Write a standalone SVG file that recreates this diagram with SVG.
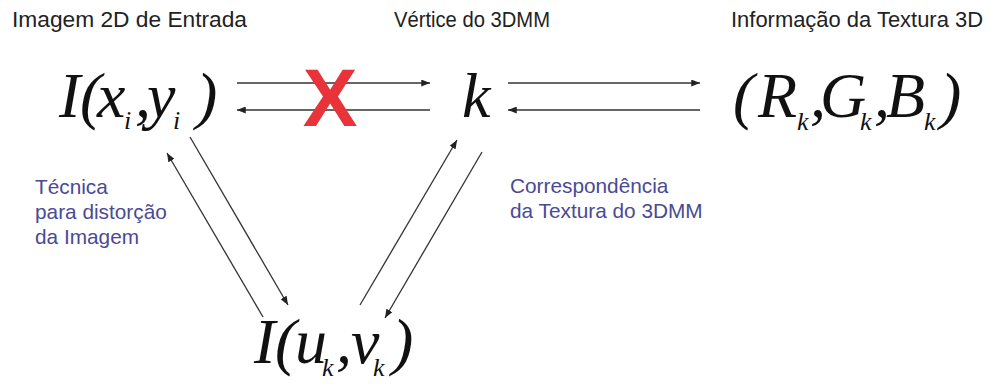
<svg xmlns="http://www.w3.org/2000/svg" width="989" height="385" viewBox="0 0 989 385">
<defs>
<style>
.title{font-family:"Liberation Sans",Arial,sans-serif;font-size:21.5px;fill:#222;}
.note{font-family:"Liberation Sans",Arial,sans-serif;font-size:20.8px;fill:#4a4a96;}
.math{font-family:"Liberation Serif","Times New Roman",serif;font-style:italic;font-size:64px;fill:#111;}
.sub{font-size:26px;}
.conn line{stroke:#333;stroke-width:1.3;fill:none;}
</style>
<marker id="ah" viewBox="0 0 10 8" refX="10" refY="4" markerWidth="9" markerHeight="7" markerUnits="userSpaceOnUse" orient="auto">
<path d="M0,0 L10,4 L0,8 Z" fill="#222"/>
</marker>
</defs>
<rect width="989" height="385" fill="#fff"/>

<g id="titles">
<text class="title" x="12" y="27" textLength="235" lengthAdjust="spacingAndGlyphs">Imagem 2D de Entrada</text>
<text class="title" x="394" y="27" textLength="156" lengthAdjust="spacingAndGlyphs">Vértice do 3DMM</text>
<text class="title" x="731" y="27" textLength="252" lengthAdjust="spacingAndGlyphs">Informação da Textura 3D</text>
</g>

<g class="conn" id="connectors">
<line x1="237" y1="83" x2="430" y2="83" marker-end="url(#ah)"/>
<line x1="430" y1="110" x2="237" y2="110" marker-end="url(#ah)"/>
<line x1="508" y1="83" x2="700" y2="83" marker-end="url(#ah)"/>
<line x1="700" y1="110" x2="508" y2="110" marker-end="url(#ah)"/>
<line x1="263" y1="317" x2="167" y2="153" marker-end="url(#ah)"/>
<line x1="190" y1="137" x2="288" y2="305" marker-end="url(#ah)"/>
<line x1="360" y1="305" x2="457" y2="140" marker-end="url(#ah)"/>
<line x1="482" y1="152" x2="385" y2="318" marker-end="url(#ah)"/>
</g>

<g id="cross">
<text x="330" y="126" text-anchor="middle" font-family="'Liberation Sans',Arial,sans-serif" font-weight="bold" font-size="82" fill="#e8333a">X</text>
</g>

<g id="node-image">
<text class="math" y="117"><tspan x="59">I</tspan><tspan x="80">(</tspan><tspan x="97">x</tspan><tspan class="sub" x="124" y="129">i</tspan><tspan x="135" y="117">,</tspan><tspan x="147">y</tspan><tspan class="sub" x="173" y="129">i</tspan><tspan x="196" y="117">)</tspan></text>
</g>

<g id="node-vertex">
<text class="math" x="462" y="117">k</text>
</g>

<g id="node-texture">
<text class="math" y="117"><tspan x="733">(</tspan><tspan x="758">R</tspan><tspan class="sub" x="797" y="130">k</tspan><tspan x="810" y="117">,</tspan><tspan x="820">G</tspan><tspan class="sub" x="860" y="130">k</tspan><tspan x="874" y="117">,</tspan><tspan x="886">B</tspan><tspan class="sub" x="924" y="130">k</tspan><tspan x="940" y="117">)</tspan></text>
</g>

<g id="node-uv">
<text class="math" y="363"><tspan x="254">I</tspan><tspan x="275">(</tspan><tspan x="295">u</tspan><tspan class="sub" x="322" y="376">k</tspan><tspan x="336" y="363">,</tspan><tspan x="351">v</tspan><tspan class="sub" x="373" y="376">k</tspan><tspan x="392" y="363">)</tspan></text>
</g>

<g id="label-warp">
<text class="note" x="35" y="194">Técnica</text>
<text class="note" x="35" y="219">para distorção</text>
<text class="note" x="35" y="244">da Imagem</text>
</g>

<g id="label-corr">
<text class="note" x="510" y="193">Correspondência</text>
<text class="note" x="510" y="218">da Textura do 3DMM</text>
</g>
</svg>
